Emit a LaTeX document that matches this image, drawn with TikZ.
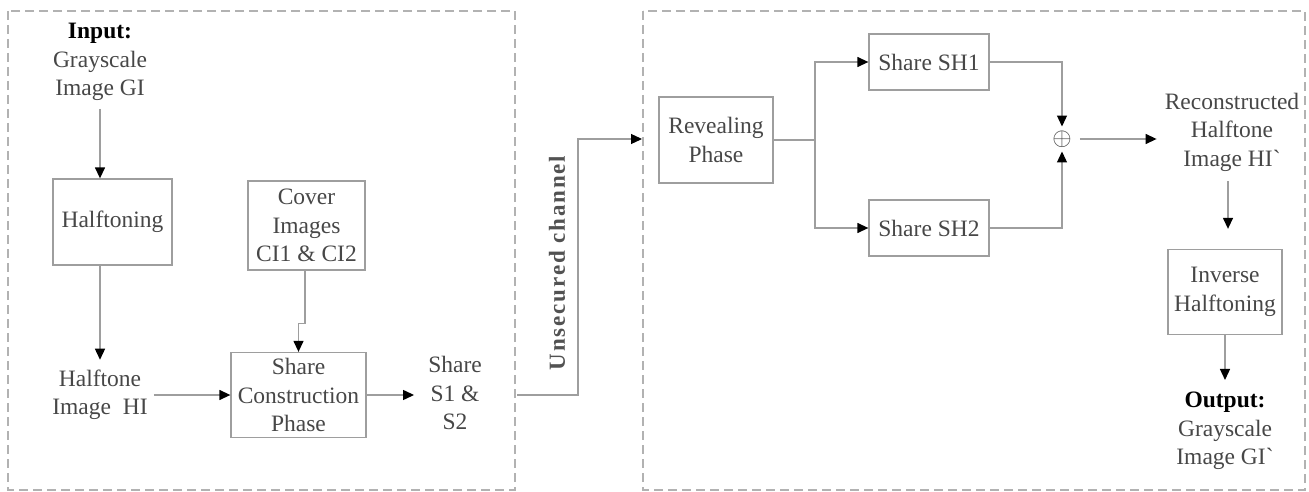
\documentclass[tikz,border=0pt]{standalone}
\usepackage{fontspec}
\setmainfont{Liberation Serif}
\usetikzlibrary{arrows.meta,calc}
\begin{document}
\begin{tikzpicture}[x=1pt,y=-1pt,
  txt/.style={align=center,font=\fontsize{23.5}{28.5}\selectfont,text=black!72,inner sep=0pt},
  blk/.style={draw=black!38,line width=1.3pt,align=center,font=\fontsize{23.5}{28.5}\selectfont,text=black!72},
  conn/.style={draw=black!38,line width=1.3pt,-{Triangle[length=11pt,width=10pt,color=black]}},
  plain/.style={draw=black!38,line width=1.3pt},
  frame/.style={draw=black!30,line width=1.3pt,dash pattern=on 9pt off 5pt}]
\path[use as bounding box] (0,0) rectangle (1309,492);
\draw[frame] (8,11) rectangle (515,490);
\draw[frame] (643,11) rectangle (1305,490);
% left part
\node[txt] (in) at (100,62) {\textcolor{black}{\textbf{Input:}}\\Grayscale\\Image GI};
\node[blk,minimum width=119pt,minimum height=86pt] (ht) at (112.5,222) {Halftoning};
\draw[conn] (in.south) ++(0,8) -- (in.south |- ht.north);
\node[txt] (hti) at (100,395) {Halftone\\Image\ \ HI};
\draw[conn] (ht.south -| hti.north) -- (hti.north) [shorten >=10pt];
\node[blk,minimum width=117pt,minimum height=89pt] (cov) at (306.5,225.5) {Cover\\Images\\CI1 \& CI2};
\node[blk,minimum width=135pt,minimum height=85pt] (scp) at (298.5,395) {Share\\Construction\\Phase};
\draw[conn] ([xshift=-1.5pt]cov.south) -- ++(0,53) -| (scp.north);
\draw[conn] ([xshift=6pt]hti.east) -- (hti.east -| scp.west);
\node[txt] (s12) at (455,393) {Share\\S1 \&\\S2};
\draw[conn] (scp.east) -- (scp.east -| s12.west) [shorten >=14pt];
% channel
\coordinate (c1) at (517,395);
\coordinate (c3) at (642,139);
\draw[conn] (c1) -- (578,395) -- (578,139) -- (c3);
\node[txt,rotate=90,text=black!68,font=\fontsize{23}{28}\selectfont\bfseries\addfontfeature{LetterSpace=8}] (uc) at (557,263) {Unsecured channel};
% right part
\node[blk,minimum width=114pt,minimum height=86pt] (rev) at (716,140) {Revealing\\Phase};
\node[blk,minimum width=120pt,minimum height=56pt] (sh1) at (929,62) {Share SH1};
\node[blk,minimum width=120pt,minimum height=56pt] (sh2) at (929,228) {Share SH2};
\coordinate (br) at (815,140);
\draw[plain] (rev.east) -- (br);
\draw[conn] (br) |- (sh1.west);
\draw[conn] (br) |- (sh2.west);
\node[txt,inner sep=4pt] (xor) at (1062,139) {$\oplus$};
\draw[conn] (sh1.east) -| (xor.north);
\draw[conn] (sh2.east) -| (xor.south);
\node[txt] (rhi) at (1232,132) {Reconstructed\\Halftone\\Image HI\textasciigrave};
\draw[conn] ([xshift=4pt]xor.east) -- (xor.east -| rhi.west) [shorten >=8pt];
\node[blk,minimum width=114pt,minimum height=85pt] (ih) at (1225,292) {Inverse\\Halftoning};
\draw[conn] ($(rhi.south)+(-4,10)$) -- ($(ih.north)+(3,-20)$);
\node[txt] (out) at (1225,431) {\textcolor{black}{\textbf{Output:}}\\Grayscale\\Image GI\textasciigrave};
\draw[conn] (ih.south) -- (out.north) [shorten >=12pt];
\end{tikzpicture}
\end{document}
